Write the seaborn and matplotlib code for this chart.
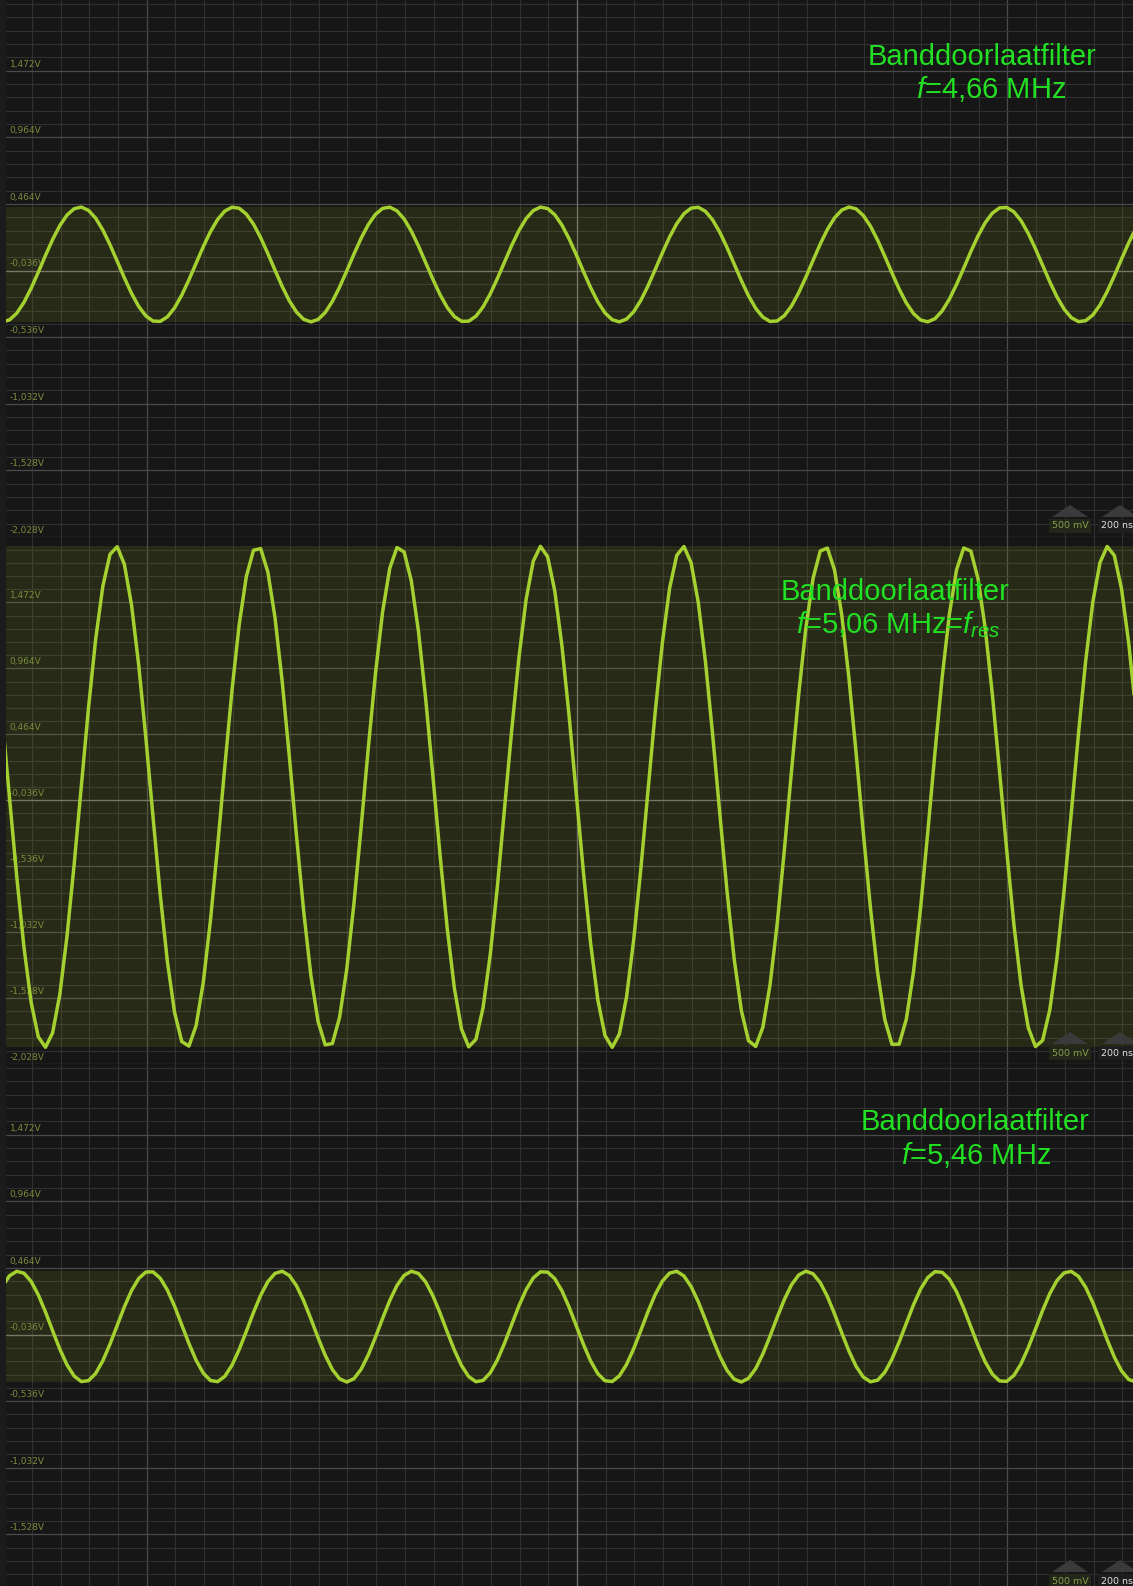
import numpy as np
import pandas as pd
import matplotlib
matplotlib.use("Agg")
import matplotlib.pyplot as plt
import seaborn as sns
from matplotlib.ticker import MultipleLocator, FixedLocator, NullFormatter
from matplotlib.patches import Polygon
from matplotlib import font_manager

# ---------------- data ----------------
FREQ_MHZ = [4.66, 5.06, 5.46]            # signal frequency per panel
AMPLITUDE_V = [0.431, 1.90, 0.416]       # peak amplitude per panel
OFFSET_V = [0.010, -0.010, 0.024]        # DC level of the trace
FIRST_PEAK_NS = [-692.7, -643.0, -779.0]  # time of first visible maximum
SAMPLE_STEP_NS = 10.0                    # scope sample interval

Y_TICK_POS = [1.464, 0.964, 0.464, -0.036, -0.536, -1.036, -1.536, -2.036]
Y_TICK_LABELS = ["1,472V", "0,964V", "0,464V", "-0,036V", "-0,536V",
                 "-1,032V", "-1,528V", "-2,028V"]
CENTER_V = -0.036
TITLE_LINE1 = ["Banddoorlaatfilter", "Banddoorlaatfilter", "Banddoorlaatfilter"]
TITLE_LINE2 = [r"$f$=4,66 MHz", r"$f$=5,06 MHz=$f_{res}$", r"$f$=5,46 MHz"]
VOLT_DIV = "500 mV"
TIME_DIV = "200 ns"

# ---------------- layout (pixels) ----------------
W, H = 1133, 1586
LEFT_PX = 6
PANEL_TOP_PX = [0, 537, 1064]
PANEL_H_PX = [537, 527, 537]
YLIMS = [(-2.036, 1.995), (-2.036, 1.96), (-2.036, 1.995)]
XLIM = (-796, 775)
TITLE_POS = [((982, 65), (991, 98)), ((895, 600), (898, 633)), ((975, 1130), (976, 1164))]
INDICATOR_BOTTOM_PX = [537, 1064, 1592]

BG = "#161616"
TRACE = "#a4d030"
LABEL_C = "#7a8c3c"
TEXT_GREEN = "#22e022"

sns.set_theme(style="dark")
plt.rcParams["font.family"] = ["Liberation Sans", "DejaVu Sans"]
plt.rcParams["mathtext.fontset"] = "custom"
plt.rcParams["mathtext.it"] = "Liberation Sans:italic"
plt.rcParams["mathtext.rm"] = "Liberation Sans"

names = {f.name for f in font_manager.fontManager.ttflist}
small_family = "Liberation Sans Narrow" if "Liberation Sans Narrow" in names else "DejaVu Sans"

fig = plt.figure(figsize=(W / 100, H / 100), dpi=100, facecolor="#1b1b1b")


def fx(px):
    return px / W


def fy(py):
    return 1 - py / H


for k in range(3):
    top = PANEL_TOP_PX[k]
    h = PANEL_H_PX[k]
    ax = fig.add_axes([fx(LEFT_PX), fy(top + h), fx(W - LEFT_PX), h / H])
    ax.set_facecolor(BG)
    for s in ax.spines.values():
        s.set_visible(False)
    ax.set_xlim(*XLIM)
    ax.set_ylim(*YLIMS[k])

    # grid
    ax.xaxis.set_major_locator(MultipleLocator(600))
    ax.xaxis.set_minor_locator(MultipleLocator(40))
    ax.yaxis.set_major_locator(FixedLocator(Y_TICK_POS))
    ax.yaxis.set_minor_locator(FixedLocator(np.round(CENTER_V + 0.1 * np.arange(-25, 26), 3)))
    ax.xaxis.set_major_formatter(NullFormatter())
    ax.yaxis.set_major_formatter(NullFormatter())
    ax.tick_params(which="both", length=0)
    ax.grid(which="minor", color="#303030", lw=0.8)
    ax.grid(which="major", color="#4a4a4a", lw=0.9)
    ax.axhline(CENTER_V, color="#6c6c6c", lw=0.9, zorder=1)
    ax.axvline(0, color="#6c6c6c", lw=0.9, zorder=1)
    ax.set_axisbelow(True)

    # trace
    t = np.arange(XLIM[0] - 5, XLIM[1] + 10, SAMPLE_STEP_NS)
    period = 1000.0 / FREQ_MHZ[k]
    v = OFFSET_V[k] + AMPLITUDE_V[k] * np.cos(2 * np.pi * (t - FIRST_PEAK_NS[k]) / period)
    df = pd.DataFrame({"t": t, "v": v})
    ax.axhspan(df.v.min(), df.v.max(), color="#a0c020", alpha=0.12, lw=0, zorder=1.5)
    sns.lineplot(data=df, x="t", y="v", ax=ax, color=TRACE, lw=2.5, sort=False,
                 estimator=None, zorder=5)
    ax.set_xlabel("")
    ax.set_ylabel("")

    # voltage labels (only those inside the visible figure)
    for pos, lab in zip(Y_TICK_POS, Y_TICK_LABELS):
        y_px = top + (YLIMS[k][1] - pos) / (YLIMS[k][1] - YLIMS[k][0]) * h
        if y_px > H - 4:
            continue
        ax.annotate(lab, xy=(0, pos), xycoords=ax.get_yaxis_transform(),
                    xytext=(2.5, 1.5), textcoords="offset points",
                    ha="left", va="bottom", fontsize=6.5, color=LABEL_C,
                    family=small_family, zorder=4)

    # annotation text
    (x1, y1), (x2, y2) = TITLE_POS[k]
    fig.text(fx(x1), fy(y1), TITLE_LINE1[k], ha="center", va="baseline",
             fontsize=21, color=TEXT_GREEN, zorder=20)
    fig.text(fx(x2), fy(y2), TITLE_LINE2[k], ha="center", va="baseline",
             fontsize=21, color=TEXT_GREEN, zorder=20)

    # scale indicators in the lower right corner
    bottom = INDICATOR_BOTTOM_PX[k]
    for cx in (1070, 1120):
        tri = Polygon([(fx(cx - 18), fy(bottom - 20)), (fx(cx), fy(bottom - 32)),
                       (fx(cx + 18), fy(bottom - 20))], closed=True,
                      transform=fig.transFigure, facecolor="#3a3a3a", edgecolor="none",
                      zorder=15)
        fig.add_artist(tri)
    fig.text(fx(1070), fy(bottom - 11), VOLT_DIV, ha="center", va="center", fontsize=6.8,
             color="#8a9c48", family=small_family,
             bbox=dict(boxstyle="square,pad=0.3", fc="#23271a", ec="none"), zorder=16)
    fig.text(fx(1117), fy(bottom - 11), TIME_DIV, ha="center", va="center", fontsize=6.8,
             color="#e0e0e0", family=small_family,
             bbox=dict(boxstyle="square,pad=0.3", fc="#1e1e1e", ec="none"), zorder=16)

fig.savefig("out.png", dpi=100, facecolor=fig.get_facecolor())
